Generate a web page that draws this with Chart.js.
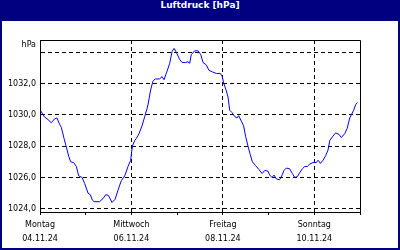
<!DOCTYPE html>
<html><head><meta charset="utf-8">
<script src="https://cdn.jsdelivr.net/npm/chart.js@4/dist/chart.umd.min.js"></script>
<style>
html,body{margin:0;padding:0;width:400px;height:250px;overflow:hidden;background:#000080;}
#title{position:absolute;left:0;top:0;width:400px;height:21px;line-height:17px;text-align:center;color:#fff;font:bold 9px "DejaVu Sans";}
#box{position:absolute;left:2px;top:21px;width:396px;height:227px;background:#fff;}
canvas{display:block;}
</style></head><body>
<div id="title">Luftdruck [hPa]</div>
<div id="box"><canvas id="c" width="396" height="227"></canvas></div>
<script>
const hours = [0.4,2.5,4.2,5.9,7.7,8.9,10.3,11.2,12.6,13.8,15.1,16.1,17.7,19.1,20.3,22.1,23.5,25.2,26.4,27.5,28.4,31.3,33.1,34.5,35.9,37.8,39.4,41.0,42.7,44.5,46.2,47.6,48.5,49.7,50.6,52.0,53.7,55.0,56.2,56.7,58.1,59.3,60.5,62.8,64.1,65.1,66.3,68.1,69.3,70.4,71.6,73.3,74.6,76.3,77.7,78.6,79.4,81.2,83.0,84.4,85.6,87.3,88.7,90.5,92.6,94.7,95.7,96.4,97.8,98.7,99.6,100.8,102.2,103.4,104.3,105.7,106.9,108.0,109.2,110.4,111.5,113.2,115.0,116.6,118.0,119.7,120.6,121.8,122.9,124.1,125.8,127.1,128.1,129.3,131.1,132.5,133.7,135.1,136.3,137.7,139.0,140.3,141.6,143.3,145.1,146.0,147.2,148.6,150.0,151.2,152.1,153.5,155.2,157.0,158.2,160.0,161.3,162.6,163.4,164.7,165.7,166.6];
const pressure = [1030.25,1029.85,1029.7,1029.5,1029.75,1029.8,1029.4,1029.2,1028.5,1027.95,1027.35,1027.0,1026.95,1026.7,1026.1,1026.0,1025.6,1025.0,1024.9,1024.55,1024.45,1024.45,1024.65,1024.9,1024.85,1024.4,1024.6,1025.2,1025.8,1026.1,1026.7,1027.1,1028.0,1028.35,1028.5,1028.8,1029.35,1029.9,1030.4,1030.65,1031.6,1032.15,1032.3,1032.3,1032.45,1032.25,1032.65,1033.3,1034.05,1034.25,1034.0,1033.55,1033.35,1033.35,1033.4,1033.3,1033.85,1034.1,1034.1,1033.85,1033.35,1033.2,1032.85,1032.75,1032.65,1032.65,1032.45,1032.05,1031.55,1031.15,1030.3,1030.15,1029.9,1029.8,1029.95,1029.6,1029.3,1028.6,1028.0,1027.45,1027.0,1026.75,1026.5,1026.25,1026.45,1026.4,1026.15,1026.0,1026.15,1025.9,1025.85,1026.15,1026.45,1026.6,1026.55,1026.25,1026.0,1026.05,1026.3,1026.55,1026.7,1026.7,1026.85,1026.95,1026.95,1027.1,1026.9,1027.1,1027.4,1027.75,1028.35,1028.6,1028.85,1028.75,1028.55,1028.8,1029.15,1029.8,1030.0,1030.3,1030.65,1030.8];
const xTickHours = [0,48,96,144];
const dayNames = ['Montag','Mittwoch','Freitag','Sonntag'];
const dayDates = ['04.11.24','06.11.24','08.11.24','10.11.24'];
const yTicks = [1024,1026,1028,1030,1032,1034];
const yUnit = 'hPa';

const FONT = '"DejaVu Sans"';

const framePlugin = {
  id: 'frame',
  afterDraw(chart) {
    const {ctx, chartArea: a} = chart;
    ctx.save();
    ctx.strokeStyle = '#000';
    ctx.lineWidth = 1;
    ctx.beginPath();
    ctx.moveTo(Math.round(a.left) + 0.5, Math.round(a.top) + 0.5);
    ctx.lineTo(Math.round(a.right) + 0.5, Math.round(a.top) + 0.5);
    ctx.lineTo(Math.round(a.right) + 0.5, Math.round(a.bottom) + 0.5);
    ctx.stroke();
    ctx.font = '8px ' + FONT;
    ctx.fillStyle = '#000';
    ctx.textAlign = 'right';
    ctx.textBaseline = 'middle';
    ctx.fillText(yUnit, a.left - 4, a.top + 5);
    ctx.restore();
  }
};

new Chart(document.getElementById('c'), {
  type: 'line',
  data: {
    datasets: [{
      data: hours.map((h, i) => ({x: h, y: pressure[i]})),
      borderColor: '#0000ff',
      borderWidth: 1,
      pointRadius: 0,
      tension: 0,
      fill: false
    }]
  },
  options: {
    responsive: false,
    animation: false,
    devicePixelRatio: 1,
    layout: {padding: {top: 19, right: 38, left: 0, bottom: 0}},
    plugins: {legend: {display: false}, tooltip: {enabled: false}, title: {display: false}},
    scales: {
      x: {
        type: 'linear',
        min: 0, max: 168,
        afterFit: s => { s.height = 36; },
        grid: {
          color: c => (c.tick && c.tick.value % 48 === 0 && c.tick.value !== 0 && c.tick.value !== 168) ? '#000' : 'rgba(0,0,0,0)',
          tickColor: '#000',
          tickLength: 3,
          drawTicks: true
        },
        border: {display: true, color: '#000', width: 1, dash: [4, 3]},
        ticks: {
          stepSize: 24,
          autoSkip: false,
          maxRotation: 0,
          minRotation: 0,
          padding: 3,
          color: '#000',
          font: {family: FONT, size: 8, lineHeight: '14px'},
          callback: v => {
            const i = xTickHours.indexOf(v);
            return i >= 0 ? [dayNames[i], dayDates[i]] : '';
          }
        }
      },
      y: {
        min: 1023.79, max: 1034.79,
        afterFit: s => { s.width = 38; },
        afterBuildTicks: s => { s.ticks = yTicks.map(v => ({value: v})); },
        grid: {color: '#000', drawTicks: false},
        border: {display: true, color: '#000', width: 1, dash: [4, 3]},
        ticks: {
          padding: 4,
          color: '#000',
          font: {family: FONT, size: 8},
          callback: v => v === 1034 ? '' : v.toFixed(1).replace('.', ',')
        }
      }
    }
  },
  plugins: [framePlugin]
});
</script>
</body></html>
